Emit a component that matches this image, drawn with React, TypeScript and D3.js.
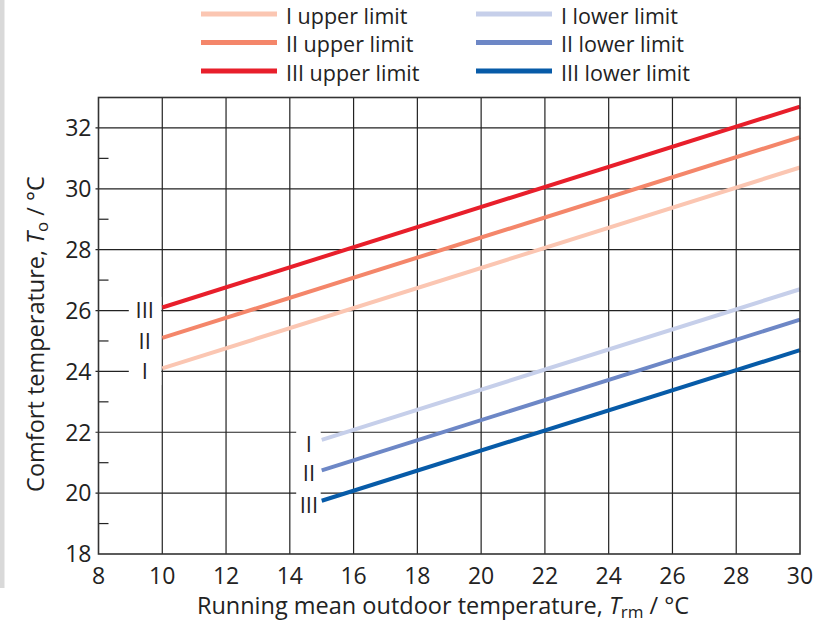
import React from 'react';
import * as d3 from 'd3';

const width = 819;
const height = 625;
const margin = {top: 97.5, right: 19, bottom: 71, left: 98.5};
const font = '"Open Sans", "Noto Sans", sans-serif';

// x range of each family of lines
const upperX = [10, 30];
const lowerX = [15, 30];

// comfort temperature at the start / end of each line
const upperI = [24.1, 30.7];
const upperII = [25.1, 31.7];
const upperIII = [26.1, 32.7];
const lowerI = [21.75, 26.7];
const lowerII = [20.75, 25.7];
const lowerIII = [19.75, 24.7];

const xTicks = [8, 10, 12, 14, 16, 18, 20, 22, 24, 26, 28, 30];
const yTicks = [18, 20, 22, 24, 26, 28, 30, 32];
const yMinor = [19, 21, 23, 25, 27, 29, 31];

const series = [
    {name: 'I upper limit', xs: upperX, ys: upperI, color: '#fbc6b2'},
    {name: 'II upper limit', xs: upperX, ys: upperII, color: '#f4866a'},
    {name: 'III upper limit', xs: upperX, ys: upperIII, color: '#e81f2b'},
    {name: 'I lower limit', xs: lowerX, ys: lowerI, color: '#c6cfea'},
    {name: 'II lower limit', xs: lowerX, ys: lowerII, color: '#6d87c6'},
    {name: 'III lower limit', xs: lowerX, ys: lowerIII, color: '#075ba8'},
];

// class markers next to the line starts
const upperMarks = [{label: 'III', x: 9.45, y: 26}, {label: 'II', x: 9.45, y: 25}, {label: 'I', x: 9.45, y: 24}];
const lowerMarks = [{label: 'I', x: 14.6, y: 21.6}, {label: 'II', x: 14.6, y: 20.65}, {label: 'III', x: 14.6, y: 19.6}];

export default function App() {
    const x = d3.scaleLinear().domain([8, 30]).range([margin.left, width - margin.right]);
    const y = d3.scaleLinear().domain([18, 33]).range([height - margin.bottom, margin.top]);
    const line = d3.line<[number, number]>().x(d => x(d[0])).y(d => y(d[1]));

    const x0 = x(8), x1 = x(30), y0 = y(18), y1 = y(33);

    return (
        <svg width={width} height={height} style={{position: 'fixed', left: 0, top: 0}} fontFamily={font}>
            <rect x={0} y={0} width={width} height={height} fill='#fff'/>
            <rect x={0} y={0} width={4.5} height={588} fill='#d9d9d9'/>

            {/* grid */}
            {xTicks.filter(t => t > 8 && t < 30).map(t => (
                <line key={'gx' + t} x1={x(t)} x2={x(t)} y1={y1} y2={y0} stroke='#222' strokeWidth={1.2}/>
            ))}
            {yTicks.filter(t => t > 18).map(t => (
                <line key={'gy' + t} x1={x0 - 3} x2={x1} y1={y(t)} y2={y(t)} stroke='#222' strokeWidth={1.2}/>
            ))}
            {yMinor.map(t => (
                <line key={'my' + t} x1={x0} x2={x0 + 10} y1={y(t)} y2={y(t)} stroke='#222' strokeWidth={1.2}/>
            ))}

            {/* class labels with white background */}
            <rect x={x(8.95)} y={y(26.45)} width={x(10) - x(8.95) - 1} height={y(23.55) - y(26.45)} fill='#fff'/>
            <rect x={x(14.2)} y={y(22.2)} width={x(15) - x(14.2) - 1} height={y(19.2) - y(22.2)} fill='#fff'/>
            {[...upperMarks, ...lowerMarks].map((m, i) => (
                <text key={'m' + i} x={x(m.x)} y={y(m.y)} dy='0.36em' textAnchor='middle' fontSize={22} fill='#222'>
                    {m.label}
                </text>
            ))}

            {/* lines */}
            {series.map(s => (
                <path key={s.name} d={line(s.xs.map((v, i) => [v, s.ys[i]] as [number, number])) || ''}
                      fill='none' stroke={s.color} strokeWidth={4}/>
            ))}

            {/* frame */}
            <rect x={x0} y={y1} width={x1 - x0} height={y0 - y1} fill='none' stroke='#333' strokeWidth={1.6}/>

            {/* tick labels */}
            {yTicks.map(t => (
                <text key={'ty' + t} x={x0 - 7} y={y(t)} dy='0.36em' textAnchor='end' fontSize={23} fill='#222'>{t}</text>
            ))}
            {xTicks.map(t => (
                <text key={'tx' + t} x={x(t)} y={y0 + 30} textAnchor='middle' fontSize={23} fill='#222'>{t}</text>
            ))}

            {/* axis titles */}
            <text x={443} y={614} textAnchor='middle' fontSize={23.5} fill='#222'>
                Running mean outdoor temperature, <tspan fontStyle='italic'>T</tspan>
                <tspan fontSize={17} dy={4}>rm</tspan><tspan dy={-4}> / °C</tspan>
            </text>
            <text transform={`translate(44, 334) rotate(-90)`} textAnchor='middle' fontSize={23.5} fill='#222'>
                Comfort temperature, <tspan fontStyle='italic'>T</tspan>
                <tspan fontSize={17} dy={4}>o</tspan><tspan dy={-4}> / °C</tspan>
            </text>

            {/* legend */}
            {series.map((s, i) => {
                const col = Math.floor(i / 3), row = i % 3;
                const lx = col === 0 ? 201 : 476;
                const ly = 14 + row * 28.5;
                return (
                    <g key={'lg' + i}>
                        <line x1={lx} x2={lx + 76} y1={ly} y2={ly} stroke={s.color} strokeWidth={5}/>
                        <text x={lx + 85} y={ly + 9.5} fontSize={21.5} fill='#222'>{s.name}</text>
                    </g>
                );
            })}
        </svg>
    );
}
